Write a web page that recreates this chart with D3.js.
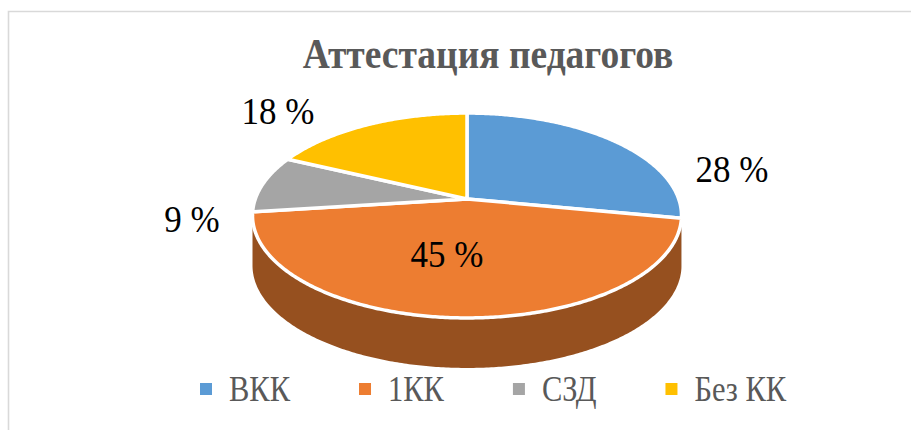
<!DOCTYPE html>
<html>
<head>
<meta charset="utf-8">
<script src="https://cdn.jsdelivr.net/npm/d3@7"></script>
<style>
  body { margin: 0; background: #fff; }
</style>
</head>
<body>
<div id="chart"></div>
<script>
const categories = ['ВКК', '1КК', 'СЗД', 'Без КК'];
const values = [28, 45, 9, 18];
const colors = ['#5B9BD5', '#ED7D31', '#A5A5A5', '#FFC000'];
const sideColors = ['#3A6E9E', '#96501F', '#707070', '#B38700'];
const title = 'Аттестация педагогов';

const width = 911, height = 430;
const serif = 'Liberation Serif, Times New Roman, serif';

const svg = d3.select('#chart').append('svg')
  .attr('width', width)
  .attr('height', height);

// chart frame (only top and left edges are inside the picture)
svg.append('path')
  .attr('d', `M8.5,${height + 5}V11.5H${width + 5}`)
  .attr('fill', 'none')
  .attr('stroke', '#d9d9d9')
  .attr('stroke-width', 1.6);

svg.append('text')
  .attr('transform', 'translate(488,68) scale(1,1.1)')
  .attr('text-anchor', 'middle')
  .attr('font-family', serif)
  .attr('font-weight', 'bold')
  .attr('font-size', 37.5)
  .attr('fill', '#595959')
  .text(title);

// 3D pie: tilted disk with a little perspective
const cx = 467, cy = 199;
const rx = 211.7, ry = 99.8, persp = 0.161, depth = 50;

const proj = (a, dy) => {
  const u = Math.sin(a), v = -Math.cos(a);
  const k = 1 - persp * v;
  return [cx + rx * u / k, cy + ry * v / k + (dy || 0)];
};

const arcPts = (a0, a1, dy) => {
  const n = Math.max(2, Math.ceil((a1 - a0) / 0.01));
  return d3.range(n + 1).map(i => proj(a0 + (a1 - a0) * i / n, dy));
};

const pie = d3.pie().sort(null).value(d => d)(values);

// front silhouette of the rim
const aRight = Math.acos(-persp), aLeft = 2 * Math.PI - aRight;

const g = svg.append('g');

pie.forEach((s, i) => {
  const a0 = Math.max(s.startAngle, aRight), a1 = Math.min(s.endAngle, aLeft);
  if (a1 <= a0) return;
  const pts = arcPts(a0, a1, 0).concat(arcPts(a0, a1, depth).reverse());
  g.append('path')
    .attr('d', d3.line()(pts) + 'Z')
    .attr('fill', sideColors[i]);
});

pie.forEach((s, i) => {
  const pts = [[cx, cy]].concat(arcPts(s.startAngle, s.endAngle, 0));
  g.append('path')
    .attr('d', d3.line()(pts) + 'Z')
    .attr('fill', colors[i])
    .attr('stroke', '#fff')
    .attr('stroke-width', 3.5)
    .attr('stroke-linejoin', 'round');
});

// data label placement (layout only)
const labelPos = [[732, 182], [447, 267], [192, 232], [278, 124]];

svg.append('g').selectAll('text').data(pie).join('text')
  .attr('transform', (d, i) => `translate(${labelPos[i][0]},${labelPos[i][1]}) scale(1,1.1)`)
  .attr('text-anchor', 'middle')
  .attr('font-family', serif)
  .attr('font-size', 35)
  .attr('fill', '#000')
  .text(d => d.data + ' %');

// legend: items laid out one after another
const leg = svg.append('g').attr('transform', 'translate(200,383)');
let x = 0;
categories.forEach((c, i) => {
  const item = leg.append('g').attr('transform', `translate(${x},0)`);
  item.append('rect')
    .attr('width', 12).attr('height', 12)
    .attr('fill', colors[i]);
  const t = item.append('text')
    .attr('transform', 'translate(29,18) scale(1,1.14)')
    .attr('font-family', serif)
    .attr('font-size', 30.5)
    .attr('fill', '#595959')
    .text(c);
  x += 29 + t.node().getComputedTextLength() + 69;
});
</script>
</body>
</html>
